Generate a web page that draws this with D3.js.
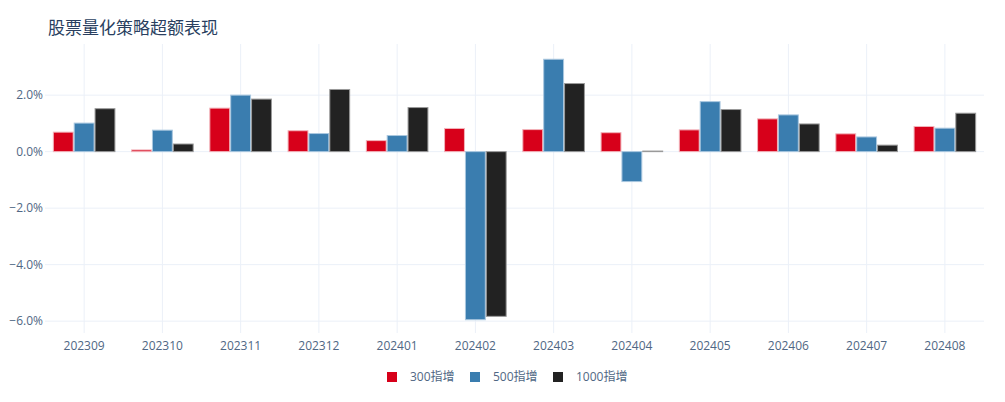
<!DOCTYPE html>
<html>
<head>
<meta charset="utf-8">
<script src="https://cdn.jsdelivr.net/npm/d3@7"></script>
<style>
  body { margin: 0; background: #fff; }
  text { font-family: "Open Sans", "Noto Sans CJK SC", sans-serif; }
</style>
</head>
<body>
<div id="chart"></div>
<script>
// months on the x axis
const months = ["202309", "202310", "202311", "202312", "202401", "202402",
  "202403", "202404", "202405", "202406", "202407", "202408"];

// series names
const seriesNames = ["300指增", "500指增", "1000指增"];

// excess returns, in %
const excess300 = [0.69, 0.06, 1.54, 0.74, 0.39, 0.82, 0.78, 0.67, 0.77, 1.16, 0.63, 0.89];
const excess500 = [1.01, 0.76, 2.00, 0.64, 0.57, -5.95, 3.27, -1.06, 1.77, 1.30, 0.52, 0.83];
const excess1000 = [1.52, 0.27, 1.86, 2.20, 1.56, -5.83, 2.41, 0.02, 1.49, 0.98, 0.23, 1.36];

const yTicks = [-6, -4, -2, 0, 2];

const colors = ["#d7001a", "#3a7daf", "#222222"];
const strokes = ["#f2b3ba", "#a9c7df", "#9a9a9a"];

const width = 1005, height = 402;
const margin = { left: 45, right: 21, top: 44, bottom: 69 };

const svg = d3.select("#chart").append("svg")
  .attr("width", width)
  .attr("height", height);

const x = d3.scaleBand()
  .domain(months)
  .range([margin.left, width - margin.right])
  .paddingInner(0.2)
  .paddingOuter(0.1);

const xc = d3.scalePoint()
  .domain(months)
  .range([margin.left, width - margin.right])
  .padding(0.5);

const y = d3.scaleLinear()
  .domain([-6.42, 3.81])
  .range([height - margin.bottom, margin.top]);

const fmt = (d) => (d < 0 ? "\u2212" : "") + Math.abs(d).toFixed(1) + "%";

// grid
svg.append("g")
  .selectAll("line")
  .data(months)
  .join("line")
  .attr("x1", (d) => xc(d)).attr("x2", (d) => xc(d))
  .attr("y1", margin.top).attr("y2", height - margin.bottom)
  .attr("stroke", "#ebf0f8");

svg.append("g")
  .selectAll("line")
  .data(yTicks)
  .join("line")
  .attr("x1", margin.left).attr("x2", width - margin.right)
  .attr("y1", (d) => y(d)).attr("y2", (d) => y(d))
  .attr("stroke", "#ebf0f8");

// y labels
svg.append("g")
  .selectAll("text")
  .data(yTicks)
  .join("text")
  .attr("x", margin.left - 2)
  .attr("y", (d) => y(d))
  .attr("dy", "0.35em")
  .attr("text-anchor", "end")
  .attr("font-size", 12)
  .attr("fill", "#506784")
  .text(fmt);

// x labels
svg.append("g")
  .selectAll("text")
  .data(months)
  .join("text")
  .attr("x", (d) => xc(d))
  .attr("y", height - margin.bottom + 13)
  .attr("dy", "0.35em")
  .attr("text-anchor", "middle")
  .attr("font-size", 12)
  .attr("fill", "#506784")
  .text((d) => d);

// bars
const sub = d3.scaleBand()
  .domain(seriesNames)
  .range([0, x.bandwidth()]);

const allSeries = [excess300, excess500, excess1000];
const rows = [];
allSeries.forEach((vals, s) => {
  vals.forEach((v, i) => rows.push({ month: months[i], name: seriesNames[s], value: v, s: s }));
});

svg.append("g")
  .selectAll("rect")
  .data(rows)
  .join("rect")
  .attr("x", (d) => x(d.month) + sub(d.name) + 0.5)
  .attr("width", sub.bandwidth() - 1)
  .attr("y", (d) => y(Math.max(0, d.value)))
  .attr("height", (d) => Math.abs(y(d.value) - y(0)))
  .attr("fill", (d) => colors[d.s])
  .attr("stroke", (d) => strokes[d.s])
  .attr("stroke-width", 1);

// title
svg.append("text")
  .attr("x", 48)
  .attr("y", 34)
  .attr("font-size", 17)
  .attr("fill", "#2a3f5f")
  .text("股票量化策略超额表现");

// legend
const legendX = [387, 470, 553];
const legend = svg.append("g")
  .selectAll("g")
  .data(seriesNames)
  .join("g")
  .attr("transform", (d, i) => `translate(${legendX[i]},377)`);

legend.append("rect")
  .attr("x", 0).attr("y", -5)
  .attr("width", 10).attr("height", 10)
  .attr("fill", (d, i) => colors[i]);

legend.append("text")
  .attr("x", 23)
  .attr("dy", "0.35em")
  .attr("font-size", 12)
  .attr("fill", "#506784")
  .text((d) => d);
</script>
</body>
</html>
